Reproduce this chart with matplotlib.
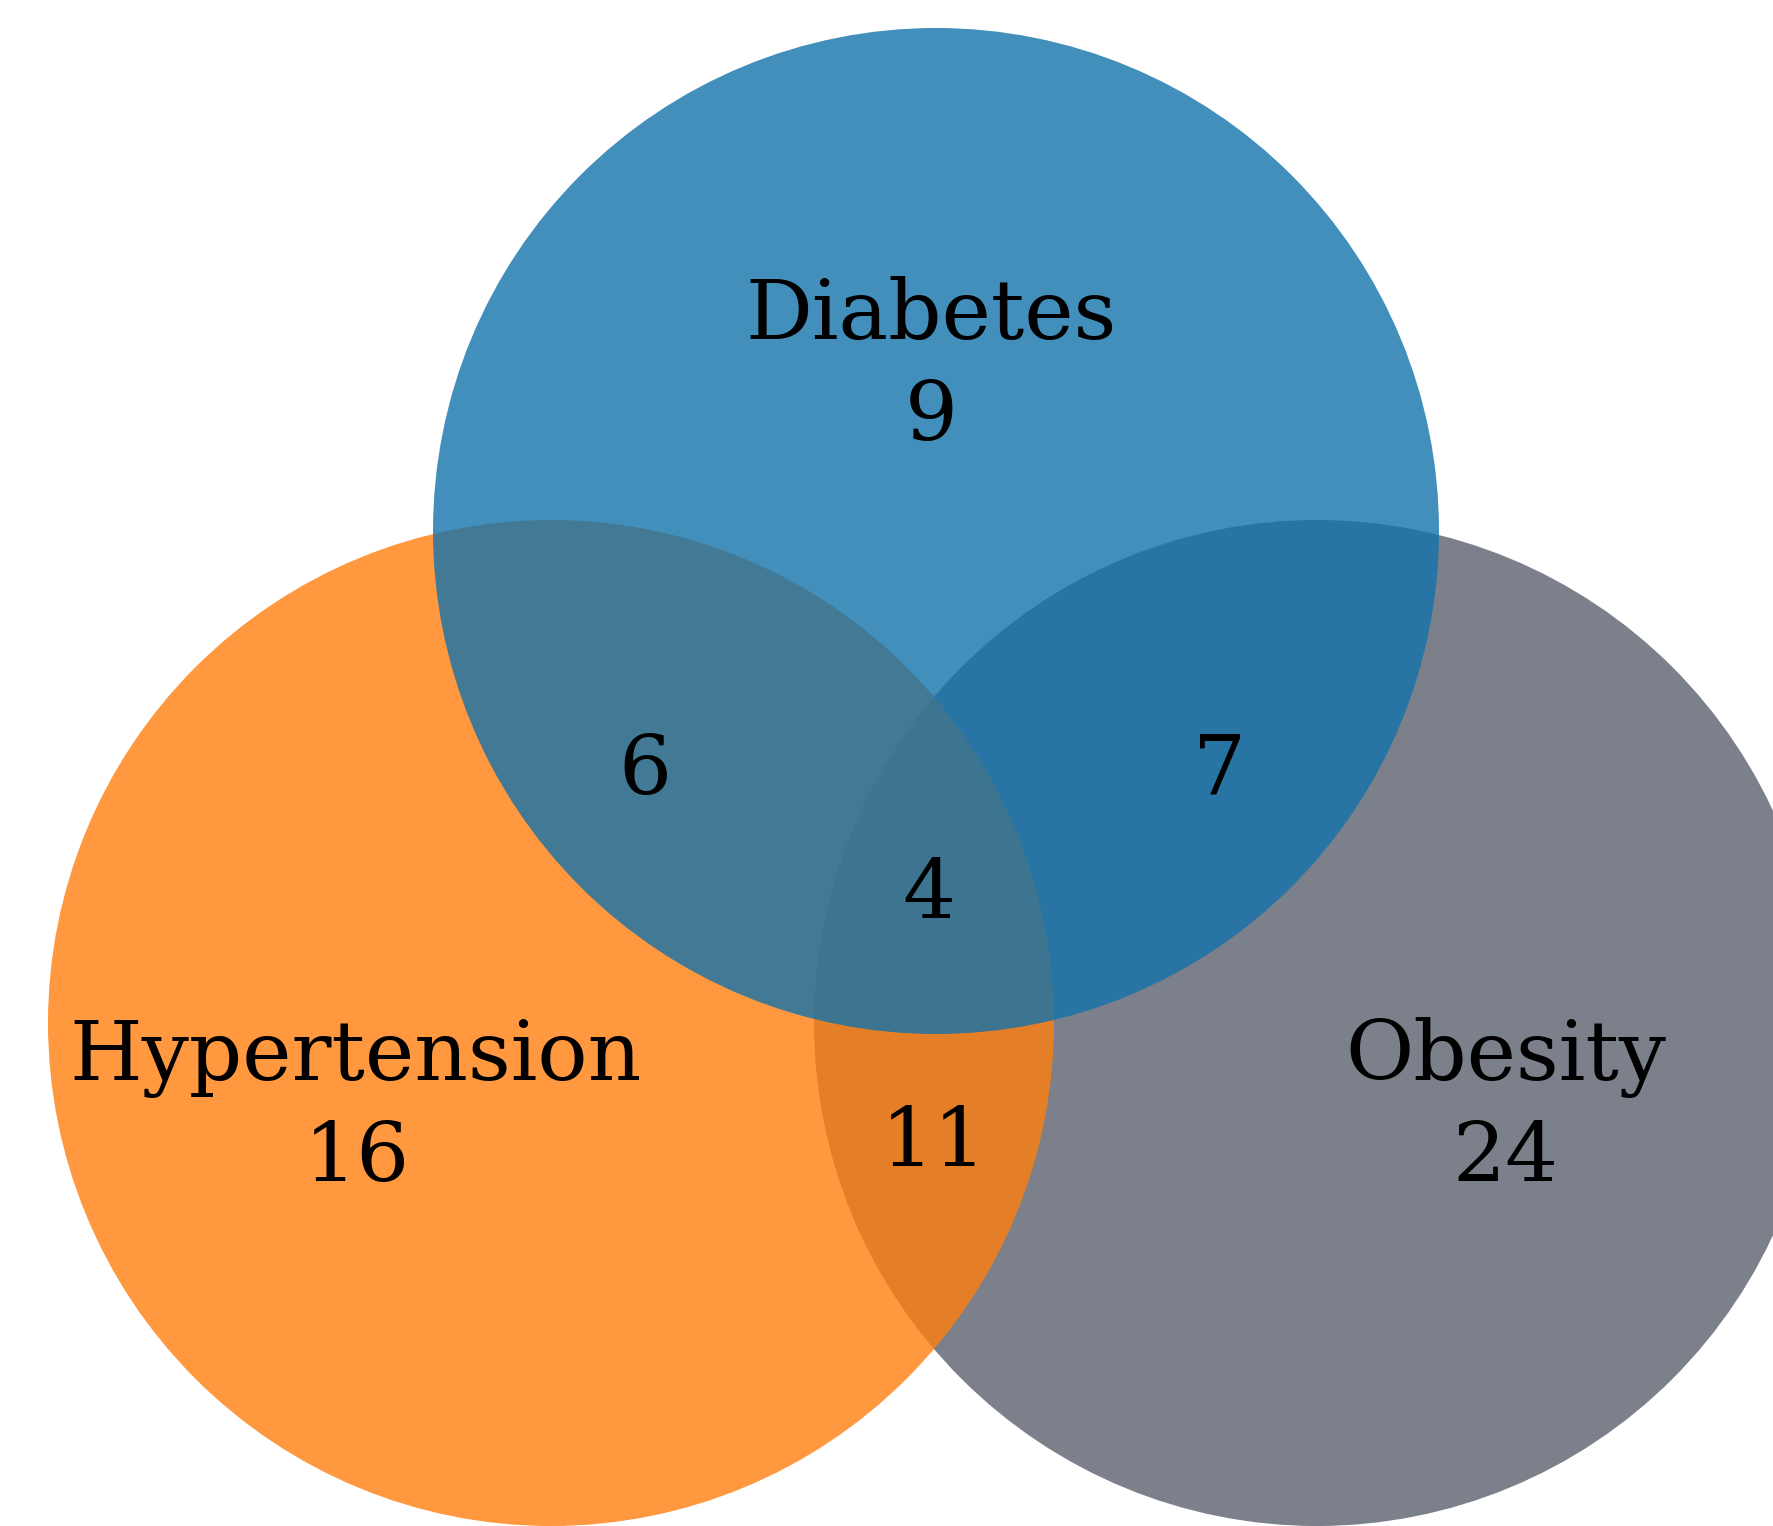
import matplotlib
matplotlib.use("Agg")
import matplotlib.pyplot as plt
from matplotlib.patches import Circle

# Set names and region counts
set_names = ["Diabetes", "Hypertension", "Obesity"]
only_counts = [9, 16, 24]          # Diabetes only, Hypertension only, Obesity only
pair_labels = ["D&H", "D&O", "H&O"]
pair_counts = [6, 7, 11]
triple_count = 4

W, H = 1773, 1526
fig = plt.figure(figsize=(W / 100, H / 100), dpi=100)
ax = fig.add_axes([0, 0, 1, 1])
ax.set_xlim(0, W)
ax.set_ylim(H, 0)
ax.set_aspect("equal")
ax.axis("off")

R = 503
centers = {
    "Obesity": (1317, 1023),
    "Hypertension": (551, 1023),
    "Diabetes": (936, 531),
}
colors = {
    "Obesity": (90 / 255, 97 / 255, 110 / 255),
    "Hypertension": (1.0, 127 / 255, 14 / 255),
    "Diabetes": (19 / 255, 115 / 255, 172 / 255),
}
# drawing order: obesity first, hypertension over it, diabetes on top
for name in ["Obesity", "Hypertension", "Diabetes"]:
    ax.add_patch(Circle(centers[name], R, facecolor=colors[name],
                        edgecolor="none", alpha=0.8))

font = dict(family="DejaVu Serif", fontsize=60, color="black",
            ha="center", va="baseline")

# set labels with their exclusive counts
label_pos = {"Diabetes": (931, 339), "Hypertension": (356, 1080), "Obesity": (1506, 1080)}
count_pos = {"Diabetes": (931, 441), "Hypertension": (357, 1182), "Obesity": (1505, 1182)}
for name, cnt in zip(set_names, only_counts):
    ax.text(*label_pos[name], name, **font)
    ax.text(*count_pos[name], str(cnt), **font)

pair_pos = {"D&H": (645, 795), "D&O": (1219, 795), "H&O": (934, 1167)}
for lab, cnt in zip(pair_labels, pair_counts):
    ax.text(*pair_pos[lab], str(cnt), **font)

ax.text(929, 919, str(triple_count), **font)

fig.savefig("out.png", dpi=100)
